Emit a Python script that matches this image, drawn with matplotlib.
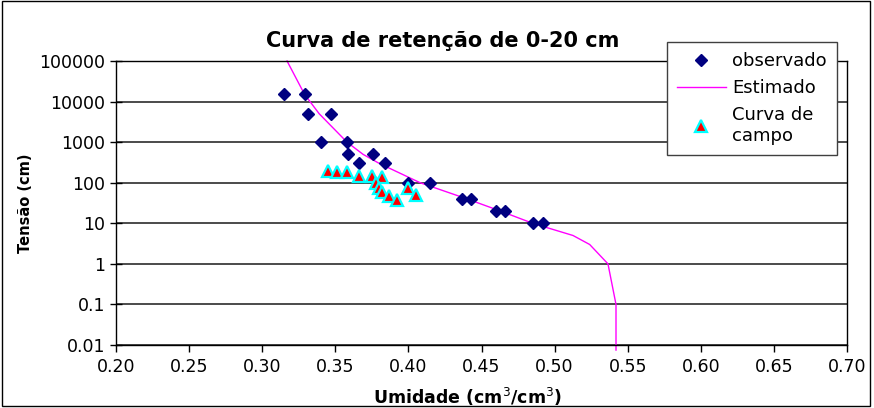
import matplotlib
matplotlib.use("Agg")
import matplotlib.pyplot as plt
from matplotlib.patches import Rectangle
from matplotlib.ticker import FixedLocator, FixedFormatter, NullLocator

plt.rcParams['font.family'] = ['DejaVu Sans']

# Observed points (umidade, tensao)
obs_umidade = [0.315, 0.329, 0.331, 0.347, 0.340, 0.358, 0.359, 0.376, 0.366, 0.384,
               0.400, 0.415, 0.437, 0.443, 0.460, 0.466, 0.485, 0.492]
obs_tensao = [15000, 15000, 5000, 5000, 1000, 1000, 500, 500, 300, 300,
              100, 100, 40, 40, 20, 20, 10, 10]

# Estimated retention curve
est_umidade = [0.317, 0.329, 0.339, 0.358, 0.369, 0.380, 0.408, 0.440, 0.463,
               0.485, 0.5126, 0.524, 0.5365, 0.542, 0.542, 0.542]
est_tensao = [100000, 15000, 5000, 1000, 500, 300, 100, 40, 20,
              10, 5, 3, 1, 0.1, 0.01, 0.0075]

# Field curve (curva de campo)
campo_umidade = [0.345, 0.351, 0.358, 0.366, 0.375, 0.382, 0.378, 0.380, 0.382,
                 0.387, 0.392, 0.400, 0.405]
campo_tensao = [190, 180, 180, 150, 150, 140, 100, 75, 58, 47, 38, 75, 50]

y_ticks = [0.01, 0.1, 1, 10, 100, 1000, 10000, 100000]
y_tick_labels = ['0.01', '0.1', '1', '10', '100', '1000', '10000', '100000']
x_ticks = [0.20, 0.25, 0.30, 0.35, 0.40, 0.45, 0.50, 0.55, 0.60, 0.65, 0.70]

fig = plt.figure(figsize=(8.74, 4.08), dpi=100)
ax = fig.add_axes([116 / 874, 1 - 345 / 408, (847 - 116) / 874, (345 - 61) / 408])

ax.set_yscale('log')
ax.set_xlim(0.20, 0.70)
ax.set_ylim(0.01, 100000)

# horizontal gridlines at every decade
for t in y_ticks:
    ax.axhline(t, color='#1a1a1a', lw=1.1, zorder=1)

line_est, = ax.plot(est_umidade, est_tensao, color='#FF00FF', lw=1, zorder=2,
                    clip_on=False)
pts_obs, = ax.plot(obs_umidade, obs_tensao, 'D', color='#000080', ms=6.5,
                   mec='#000080', ls='none', zorder=3)
pts_campo, = ax.plot(campo_umidade, campo_tensao, '^', color='#FF0000', ms=8.5,
                     mec='#00FFFF', mew=1.6, ls='none', zorder=4)

ax.yaxis.set_major_locator(FixedLocator(y_ticks))
ax.yaxis.set_major_formatter(FixedFormatter(y_tick_labels))
ax.yaxis.set_minor_locator(NullLocator())
ax.set_xticks(x_ticks)
ax.set_xticklabels(['%.2f' % v for v in x_ticks])
ax.tick_params(axis='y', direction='inout', length=9, width=1, labelsize=12.5, pad=3)
ax.tick_params(axis='x', direction='out', length=5, width=1, labelsize=12.5, pad=4)

for s in ax.spines.values():
    s.set_color('black')
    s.set_linewidth(1)

# titles
fig.text(443 / 874, 1 - 41 / 408, 'Curva de retenção de 0-20 cm', ha='center',
         va='center', fontsize=15, fontweight='bold')
fig.text(0.535, 0.027, 'Umidade (cm$^3$/cm$^3$)', ha='center', va='center',
         fontsize=12.5, fontweight='bold')
fig.text(26 / 874, 1 - 203 / 408, 'Tensão (cm)', ha='center', va='center',
         rotation=90, fontsize=10.5, fontweight='bold')

leg = fig.legend([pts_obs, line_est, pts_campo],
                 ['observado', 'Estimado', 'Curva de\ncampo'],
                 loc='upper left', bbox_to_anchor=(667 / 874, 1 - 42 / 408),
                 bbox_transform=fig.transFigure, fontsize=13,
                 fancybox=False, framealpha=1, edgecolor='#404040',
                 handlelength=2.7, handletextpad=0.35, borderpad=0.55,
                 labelspacing=0.5, borderaxespad=0)
leg.get_frame().set_linewidth(1)

# outer chart border
fig.patches.append(Rectangle((0.002, 0.004), 0.993, 0.993, transform=fig.transFigure,
                             fill=False, ec='black', lw=1))

fig.savefig('out.png', dpi=100)
